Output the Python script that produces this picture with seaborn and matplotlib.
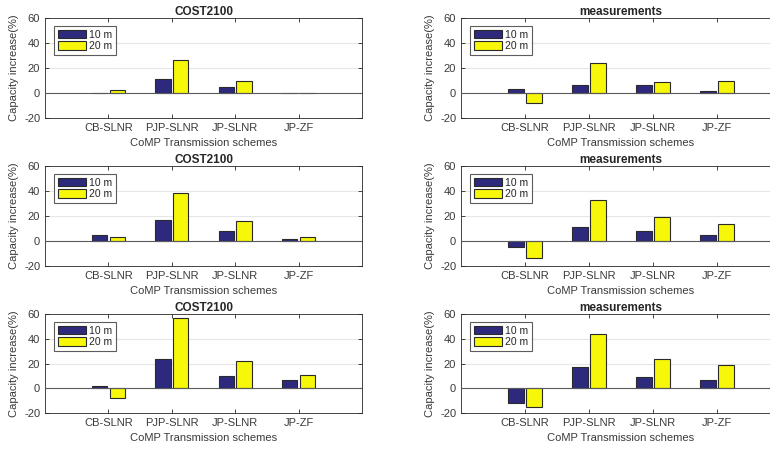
import matplotlib
matplotlib.use("Agg")
import matplotlib.pyplot as plt
import seaborn as sns
import pandas as pd

sns.set_style("white")
plt.rcParams['font.family'] = ['Liberation Sans', 'DejaVu Sans']

schemes = ["CB-SLNR", "PJP-SLNR", "JP-SLNR", "JP-ZF"]
heights = ["10 m", "20 m"]
titles = ["COST2100", "measurements"]

# row 1
cost_r1_10 = [0.4, 11.2, 5.0, 0.4]
cost_r1_20 = [2.6, 26.8, 9.3, 0.4]
meas_r1_10 = [3.2, 6.7, 6.7, 1.9]
meas_r1_20 = [-8.0, 24.3, 8.8, 9.3]
# row 2
cost_r2_10 = [4.8, 16.5, 7.7, 1.9]
cost_r2_20 = [2.9, 38.7, 16.3, 2.9]
meas_r2_10 = [-5.1, 10.9, 7.7, 4.8]
meas_r2_20 = [-13.3, 32.8, 18.9, 13.3]
# row 3
cost_r3_10 = [2.1, 23.5, 10.1, 6.7]
cost_r3_20 = [-8.0, 57.0, 22.0, 11.0]
meas_r3_10 = [-12.0, 17.1, 9.3, 6.7]
meas_r3_20 = [-15.0, 43.7, 23.5, 18.7]

panels = [
    [(cost_r1_10, cost_r1_20), (meas_r1_10, meas_r1_20)],
    [(cost_r2_10, cost_r2_20), (meas_r2_10, meas_r2_20)],
    [(cost_r3_10, cost_r3_20), (meas_r3_10, meas_r3_20)],
]

yticks = [-20, 0, 20, 40, 60]

fig = plt.figure(figsize=(7.7, 4.5), dpi=100)
W, H = 770.0, 450.0
col_x = [(45, 317), (461, 320)]
row_y = [(18, 100), (166, 100), (314, 99)]

blue = "#2d2a7e"
yellow = "#f7f70a"
edge = "#2a2a2a"
spine_c = "#262626"
txt_c = "#3a3a3a"

for r in range(3):
    for c in range(2):
        x0, w = col_x[c]
        y0, h = row_y[r]
        ax = fig.add_axes([x0 / W, 1 - (y0 + h) / H, w / W, h / H])
        v10, v20 = panels[r][c]
        df = pd.DataFrame({
            "scheme": schemes * 2,
            "height": [heights[0]] * 4 + [heights[1]] * 4,
            "value": list(v10) + list(v20),
        })
        sns.barplot(data=df, x="scheme", y="value", hue="height",
                    order=schemes, hue_order=heights,
                    palette=[blue, yellow], width=0.56, gap=0.14,
                    edgecolor=edge, linewidth=0.8, ax=ax, legend=True,
                    saturation=1)
        ax.set_xlim(-1, 4)
        ax.set_ylim(-20, 60)
        ax.set_yticks(yticks)
        ax.set_yticklabels([str(t) for t in yticks], fontsize=8, color=txt_c)
        ax.set_xticks(range(len(schemes)))
        ax.set_xticklabels(schemes, fontsize=8, color=txt_c)
        for t in [20, 40]:
            ax.axhline(t, color="#e6e6e6", lw=0.8, zorder=0)
        ax.axhline(0, color="#5a5a5a", lw=0.8, zorder=3)
        ax.tick_params(direction="in", length=3, width=0.6, color=spine_c,
                       top=True, right=True, bottom=True, left=True, pad=3.5)
        for s in ax.spines.values():
            s.set_visible(True)
            s.set_color(spine_c)
            s.set_linewidth(0.6)
        ax.set_title(titles[c], fontsize=8.5, fontweight="bold", pad=2)
        ax.set_xlabel("CoMP Transmission schemes", fontsize=8, color=txt_c, labelpad=3.5)
        ax.set_ylabel("Capacity increase(%)", fontsize=8, color=txt_c, labelpad=3.5)
        leg = ax.legend(loc="upper left", bbox_to_anchor=(0.028, 0.92),
                        fontsize=7.5, frameon=True, fancybox=False,
                        handlelength=2.7, handleheight=0.85, handletextpad=0.3,
                        borderpad=0.35, labelspacing=0.15, borderaxespad=0)
        leg.get_frame().set_edgecolor("#333333")
        leg.get_frame().set_linewidth(0.8)
        for p in leg.get_patches():
            p.set_edgecolor(edge)
            p.set_linewidth(0.8)

fig.savefig("out.png", dpi=100)
